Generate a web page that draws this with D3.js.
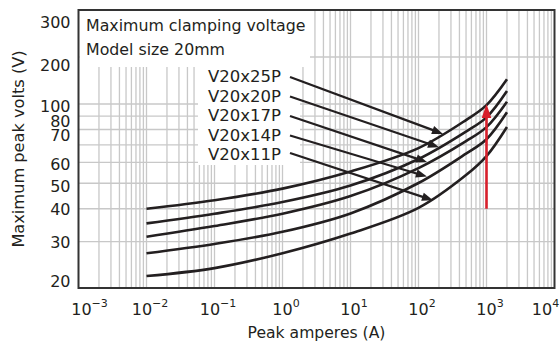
<!DOCTYPE html>
<html>
<head>
<meta charset="utf-8">
<script src="https://cdn.jsdelivr.net/npm/d3@7"></script>
<style>
  html, body { margin: 0; padding: 0; background: #fff; }
  svg { display: block; }
</style>
</head>
<body>
<div id="chart"></div>
<script>
// data
const seriesNames = ['V20x25P', 'V20x20P', 'V20x17P', 'V20x14P', 'V20x11P'];
const currents = [0.01, 0.1, 1, 10, 100, 500, 1000, 2000];
const v20x25P = [40, 43.1, 47.7, 55.4, 68, 86.9, 99, 152.5];
const v20x20P = [35.2, 38.3, 42.4, 49, 61.8, 78.6, 89, 127.7];
const v20x17P = [31.3, 34.4, 38.3, 44.7, 57.1, 72.3, 81.7, 104.9];
const v20x14P = [27.1, 29.4, 32.7, 38.4, 50.1, 64.8, 73.5, 93];
const v20x11P = [22.2, 23.8, 27.1, 32.2, 40.3, 53.7, 63.4, 81.8];
const arrowTips = [[229, 77], [200, 68.5], [133, 60.2], [133, 53], [163, 43.1]];
const redArrow = [[1000, 40], [1000, 100]];

const xTicks = [-3, -2, -1, 0, 1, 2, 3, 4];
const yTickLabels = [300, 200, 100, 80, 70, 60, 50, 40, 30, 20];
const yGridValues = [200, 100, 90, 80, 70, 60, 50, 40, 30];

const width = 560, height = 343;
const pLeft = 78.5, pRight = 554.5, pTop = 10, pBottom = 288;
const ink = '#231f20';
const font = '"DejaVu Sans", sans-serif';

const svg = d3.select('#chart').append('svg')
  .attr('width', width)
  .attr('height', height);

const x = d3.scaleLog().domain([1e-3, 1e4]).range([pLeft, pRight]);
// lower part of the axis is logarithmic, the part above 100 V is squeezed linearly
const yLog = d3.scaleLog().domain([20, 100]).range([pBottom, 104]);
const yLin = d3.scaleLinear().domain([100, 300]).range([104, pTop]);
const y = v => v <= 100 ? yLog(v) : yLin(v);

// grid
const minorX = [];
for (let e = -3; e < 4; e++) {
  for (let k = 1; k <= 9; k++) minorX.push(k * Math.pow(10, e));
}
svg.append('g')
  .attr('stroke', '#c8c8c8')
  .attr('stroke-width', 1.3)
  .selectAll('line')
  .data(minorX.filter(d => d > 1e-3))
  .join('line')
    .attr('x1', d => x(d)).attr('x2', d => x(d))
    .attr('y1', pTop).attr('y2', pBottom);

svg.append('g')
  .attr('stroke', '#c8c8c8')
  .attr('stroke-width', 1.3)
  .selectAll('line')
  .data(yGridValues)
  .join('line')
    .attr('x1', pLeft).attr('x2', pRight)
    .attr('y1', d => y(d)).attr('y2', d => y(d));

// white boxes over the grid for the title and the labels
svg.append('rect')
  .attr('x', pLeft + 1).attr('y', pTop + 1)
  .attr('width', 309 - pLeft).attr('height', 66 - pTop)
  .attr('fill', '#fff');
svg.append('rect')
  .attr('x', 198).attr('y', 60)
  .attr('width', 102).attr('height', 105)
  .attr('fill', '#fff');

// frame
svg.append('rect')
  .attr('x', pLeft).attr('y', pTop)
  .attr('width', pRight - pLeft).attr('height', pBottom - pTop)
  .attr('fill', 'none')
  .attr('stroke', '#333')
  .attr('stroke-width', 2);

// title
const title = svg.append('g')
  .attr('font-family', font)
  .attr('font-size', 15.8)
  .attr('fill', ink);
title.append('text').attr('x', 86).attr('y', 31).text('Maximum clamping voltage');
title.append('text').attr('x', 86).attr('y', 55).text('Model size 20mm');

// curves
const allSeries = [v20x25P, v20x20P, v20x17P, v20x14P, v20x11P];
const line = d3.line()
  .x(d => x(d[0]))
  .y(d => y(d[1]))
  .curve(d3.curveCatmullRom.alpha(0.5));

svg.append('g')
  .attr('fill', 'none')
  .attr('stroke', ink)
  .attr('stroke-width', 2.6)
  .selectAll('path')
  .data(allSeries.map(vals => currents.map((c, i) => [c, vals[i]])))
  .join('path')
    .attr('d', line);

// series labels with pointer arrows
const labelX = 208, labelY0 = 82, labelStep = 19.5;
svg.append('g')
  .attr('font-family', font)
  .attr('font-size', 16.5)
  .attr('fill', ink)
  .selectAll('text')
  .data(seriesNames)
  .join('text')
    .attr('x', labelX)
    .attr('y', (d, i) => labelY0 + i * labelStep)
    .text(d => d);

const startYs = seriesNames.map((d, i) => labelY0 - 5 + i * labelStep + (i === 4 ? -2 : 0));

function arrow(g, x1, y1, x2, y2, color, w, headLen, headHalf) {
  const ang = Math.atan2(y2 - y1, x2 - x1);
  const bx = x2 - headLen * Math.cos(ang), by = y2 - headLen * Math.sin(ang);
  g.append('line')
    .attr('x1', x1).attr('y1', y1)
    .attr('x2', bx + Math.cos(ang)).attr('y2', by + Math.sin(ang))
    .attr('stroke', color).attr('stroke-width', w);
  const px = -Math.sin(ang), py = Math.cos(ang);
  g.append('path')
    .attr('d', `M${x2},${y2}L${bx + px * headHalf},${by + py * headHalf}L${bx - px * headHalf},${by - py * headHalf}Z`)
    .attr('fill', color);
}

const arrows = svg.append('g');
arrowTips.forEach((t, i) => {
  arrow(arrows, 290, startYs[i], x(t[0]), y(t[1]), ink, 2.2, 11, 4.2);
});

// red arrow at 1000 A
arrow(svg.append('g'),
  x(redArrow[0][0]), y(redArrow[0][1]),
  x(redArrow[1][0]), y(redArrow[1][1]),
  '#d71f2b', 2.6, 14, 4.8);

// y tick labels, some nudged like in the original
const yNudge = {300: 12.5, 200: 8, 100: 2, 80: -8.5, 70: -10, 60: 1.4, 50: 2.7, 40: 0.7, 30: 0.8, 20: -7};
svg.append('g')
  .attr('font-family', font)
  .attr('font-size', 16)
  .attr('fill', ink)
  .attr('text-anchor', 'end')
  .selectAll('text')
  .data(yTickLabels)
  .join('text')
    .attr('x', 70.5)
    .attr('y', d => y(d) + yNudge[d])
    .attr('dy', '0.36em')
    .text(d => d);

// x tick labels as powers of ten
const xl = svg.append('g')
  .attr('font-family', font)
  .attr('font-size', 16)
  .attr('fill', ink)
  .attr('text-anchor', 'middle')
  .selectAll('text')
  .data(xTicks)
  .join('text')
    .attr('x', d => Math.min(Math.max(x(Math.pow(10, d)) + 3.5, 89.5), 545.5))
    .attr('y', 315);
xl.append('tspan').text('10');
xl.append('tspan')
  .attr('font-size', 11)
  .attr('dy', -8.5)
  .text(d => d < 0 ? '\u2212' + Math.abs(d) : d);

// axis titles
svg.append('text')
  .attr('font-family', font)
  .attr('font-size', 15.6)
  .attr('fill', ink)
  .attr('text-anchor', 'middle')
  .attr('x', (pLeft + pRight) / 2)
  .attr('y', 338)
  .text('Peak amperes (A)');

svg.append('text')
  .attr('font-family', font)
  .attr('font-size', 16.2)
  .attr('fill', ink)
  .attr('text-anchor', 'middle')
  .attr('transform', `translate(23.5,${(pTop + pBottom) / 2}) rotate(-90)`)
  .text('Maximum peak volts (V)');
</script>
</body>
</html>
